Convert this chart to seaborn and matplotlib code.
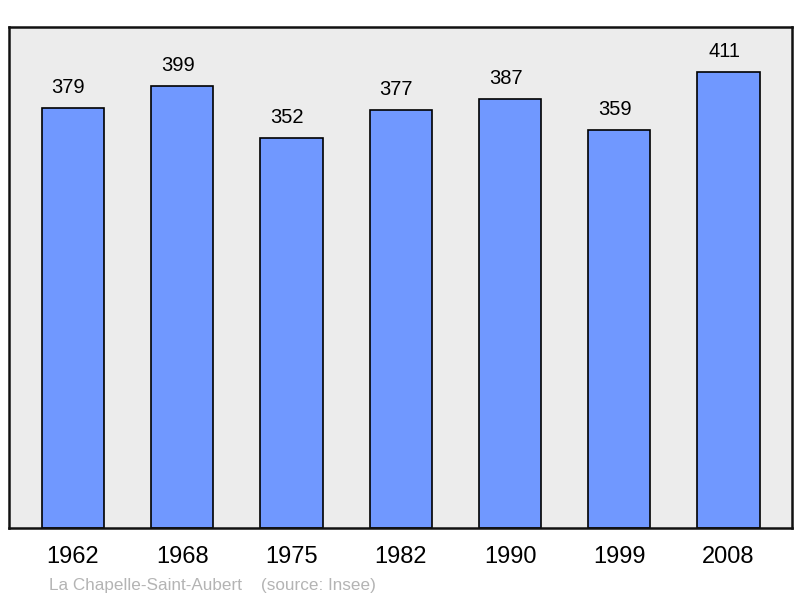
import matplotlib
matplotlib.use("Agg")
import matplotlib.pyplot as plt
import pandas as pd
import seaborn as sns

years = ["1962", "1968", "1975", "1982", "1990", "1999", "2008"]
population = [379, 399, 352, 377, 387, 359, 411]

sns.set_theme(style="white")
plt.rcParams["font.family"] = ["Liberation Sans", "DejaVu Sans"]

df = pd.DataFrame({"year": years, "pop": population})

fig = plt.figure(figsize=(8, 5.98), dpi=100)
ax = fig.add_axes([9 / 800, 70 / 598, 783 / 800, 501 / 598])
ax.set_facecolor("#ececec")

sns.barplot(data=df, x="year", y="pop", color="#7098ff", saturation=1,
            width=0.57, edgecolor="black", linewidth=1.2, ax=ax)

# value labels sit a little left of bar centres in the original
for i, v in enumerate(population):
    ax.annotate(str(v), (i, v), xytext=(-3.2, 14.8), textcoords="offset points",
                ha="center", va="center", fontsize=14.5, color="black")

ax.set_xlim(-0.585, 6.58)
ax.set_ylim(0, 452)
ax.set_yticks([])
ax.set_xlabel("")
ax.set_ylabel("")
ax.tick_params(axis="x", length=0, pad=13, labelsize=17, colors="black")
for s in ax.spines.values():
    s.set_color("#111111")
    s.set_linewidth(1.8)

fig.text(49 / 800, 1 - 590 / 598, "La Chapelle-Saint-Aubert    (source: Insee)",
         fontsize=12.3, color="#b4b4b4", ha="left", va="baseline")

fig.savefig("out.png", dpi=100)
